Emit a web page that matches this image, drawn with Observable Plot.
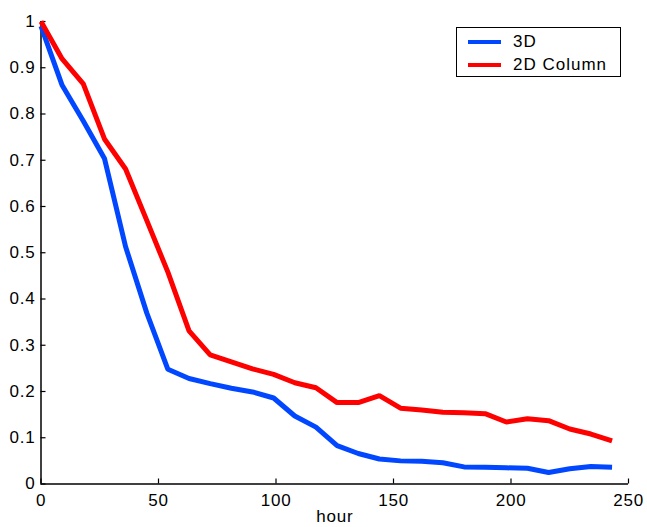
<!DOCTYPE html>
<html>
<head>
<meta charset="utf-8">
<script src="https://cdn.jsdelivr.net/npm/d3@7"></script>
<script src="https://cdn.jsdelivr.net/npm/@observablehq/plot@0.6"></script>
<style>
  html, body { margin: 0; padding: 0; background: #fff; }
  #wrap { position: relative; width: 647px; height: 527px; overflow: hidden; font-family: "Liberation Sans", Arial, sans-serif; }
  #wrap svg text { letter-spacing: 0.8px; }
  #legend { position: absolute; left: 456px; top: 27px; width: 165px; height: 50px; border: 1.3px solid #000; background: #fff; box-sizing: border-box; }
  .row { position: absolute; left: 0; height: 20px; width: 100%; }
  .sw { position: absolute; left: 11px; width: 33px; height: 4px; top: 8px; }
  .lab { position: absolute; left: 56px; top: 0px; font-size: 17px; line-height: 20px; letter-spacing: 1px; color: #000; white-space: nowrap; }
</style>
</head>
<body>
<div id="wrap"></div>
<script>
const hours = [0, 9, 18, 27, 36, 45, 54, 63, 72, 81, 90, 99, 108, 117, 126, 135, 144, 153, 162, 171, 180, 189, 198, 207, 216, 225, 234, 243];
const values3D = [0.99, 0.862, 0.785, 0.704, 0.513, 0.37, 0.248, 0.228, 0.217, 0.207, 0.199, 0.186, 0.147, 0.123, 0.083, 0.066, 0.054, 0.050, 0.049, 0.046, 0.037, 0.036, 0.035, 0.034, 0.025, 0.033, 0.038, 0.036];
const values2D = [1.0, 0.919, 0.865, 0.746, 0.681, 0.57, 0.458, 0.331, 0.279, 0.264, 0.249, 0.237, 0.219, 0.208, 0.176, 0.176, 0.191, 0.164, 0.160, 0.155, 0.154, 0.152, 0.134, 0.141, 0.137, 0.119, 0.108, 0.093];
const seriesNames = ["3D", "2D Column"];
const seriesColors = ["#0047ff", "#ff0000"];
const xTicks = [0, 50, 100, 150, 200, 250];
const yTicks = [0, 0.1, 0.2, 0.3, 0.4, 0.5, 0.6, 0.7, 0.8, 0.9, 1];
const yTickLabels = ["0", "0.1", "0.2", "0.3", "0.4", "0.5", "0.6", "0.7", "0.8", "0.9", "1"];

const rows = [];
hours.forEach((h, i) => rows.push({hour: h, value: values3D[i], series: seriesNames[0]}));
hours.forEach((h, i) => rows.push({hour: h, value: values2D[i], series: seriesNames[1]}));

const chart = Plot.plot({
  width: 647,
  height: 527,
  marginLeft: 40.5,
  marginRight: 19,
  marginTop: 21,
  marginBottom: 43.5,
  style: {fontFamily: "Liberation Sans, Arial, sans-serif", fontSize: "17px", background: "#fff", color: "#000"},
  x: {domain: [0, 250]},
  y: {domain: [0, 1]},
  color: {domain: seriesNames, range: seriesColors},
  marks: [
    Plot.axisX({ticks: xTicks, tickSize: -5, tickPadding: 15, fontSize: 17, label: "hour", labelAnchor: "center", labelArrow: "none", labelOffset: 38, strokeWidth: 1.2}),
    Plot.axisY({ticks: yTicks, tickFormat: (d, i) => yTickLabels[i], tickSize: -5, tickPadding: 10.5, fontSize: 17, label: null, strokeWidth: 1.2}),
    Plot.ruleX([0], {strokeWidth: 1.5}),
    Plot.ruleY([0], {strokeWidth: 1.5}),
    Plot.line(rows, {x: "hour", y: "value", z: "series", stroke: "series", strokeWidth: 5, strokeLinejoin: "miter", strokeLinecap: "butt"})
  ]
});

const wrap = document.getElementById("wrap");
wrap.appendChild(chart);

const legend = document.createElement("div");
legend.id = "legend";
seriesNames.forEach((name, i) => {
  const row = document.createElement("div");
  row.className = "row";
  row.style.top = (4 + i * 22.5) + "px";
  const sw = document.createElement("div");
  sw.className = "sw";
  sw.style.background = seriesColors[i];
  const lab = document.createElement("div");
  lab.className = "lab";
  lab.textContent = name;
  row.appendChild(sw);
  row.appendChild(lab);
  legend.appendChild(row);
});
wrap.appendChild(legend);
</script>
</body>
</html>
